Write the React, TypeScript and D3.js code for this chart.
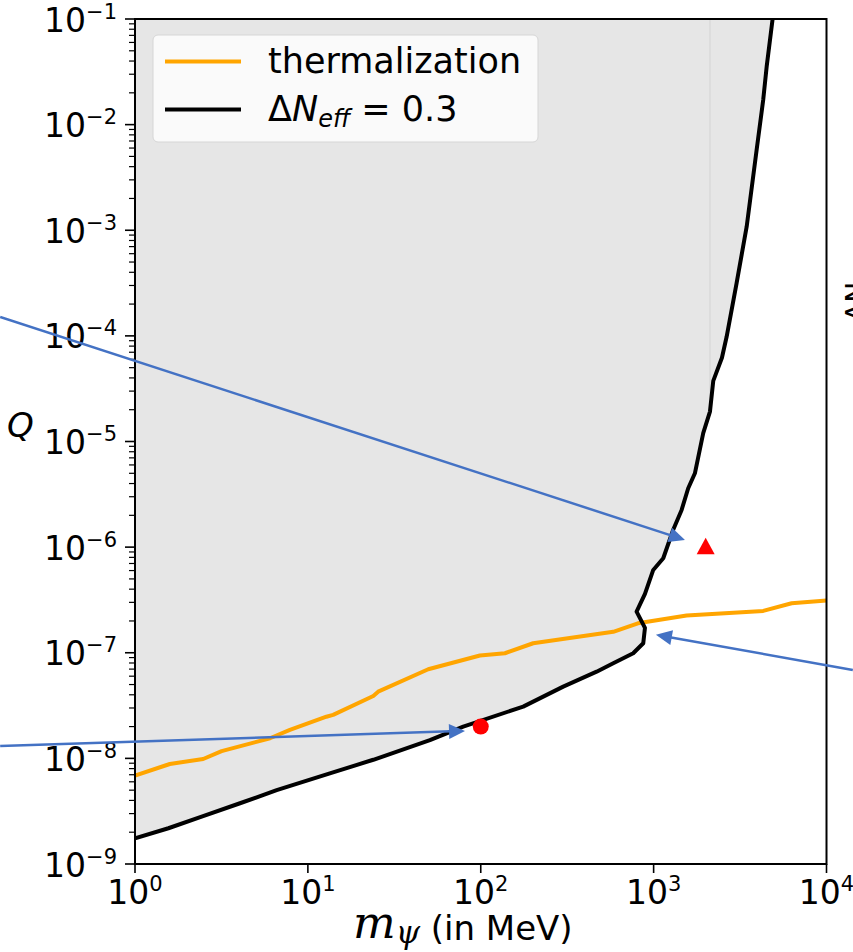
import { useEffect, useRef } from 'react';
import * as d3 from 'd3';

// Delta N_eff = 0.3 contour (mass in MeV, Q)
const neffMass = [1, 1.56, 2.43, 4.05, 6.6, 13.4, 23.9, 50.8, 79.2, 176, 300, 468, 584, 762, 871, 891, 797, 891, 995, 1137, 1298, 1452, 1585, 1733, 1936, 2118, 2213, 2484, 2644, 3020, 3453, 3944, 4305, 4508, 4878];
const neffQ = [1.75e-9, 2.18e-9, 2.81e-9, 3.76e-9, 5.0e-9, 7.2e-9, 9.7e-9, 1.49e-8, 2.0e-8, 3.09e-8, 4.78e-8, 6.62e-8, 7.96e-8, 9.9e-8, 1.23e-7, 1.72e-7, 2.45e-7, 3.61e-7, 6.08e-7, 7.85e-7, 1.46e-6, 2.25e-6, 3.61e-6, 5.0e-6, 1.2e-5, 1.92e-5, 3.75e-5, 6.2e-5, 9.8e-5, 3.16e-4, 1.08e-3, 5.77e-3, 1.72e-2, 3.55e-2, 0.1];

// thermalization line
const thermMass = [1, 1.59, 2.48, 3.17, 6.04, 7.87, 12.8, 14.0, 23.9, 25.5, 49.7, 98.9, 138, 201, 584, 811, 1552, 4305, 6285, 10000];
const thermQ = [6.86e-9, 8.85e-9, 9.87e-9, 1.17e-8, 1.55e-8, 1.86e-8, 2.48e-8, 2.58e-8, 3.9e-8, 4.28e-8, 6.98e-8, 9.42e-8, 9.89e-8, 1.23e-7, 1.58e-7, 1.9e-7, 2.25e-7, 2.49e-7, 2.94e-7, 3.13e-7];

// benchmark points
const circlePoint = [100, 2e-8];
const trianglePoint = [2000, 1e-6];

// annotation arrows: [mass, Q] start -> end
const arrowStart = [[0.166, 1.51e-4], [14200, 6.87e-8], [0.166, 1.31e-8]];
const arrowEnd = [[1518, 1.17e-6], [1031, 1.48e-7], [81.1, 1.82e-8]];

// faint edge of the shaded region
const edgeMass = 2118;
const edgeQ = [1.92e-5, 0.1];

const xTickExp = [0, 1, 2, 3, 4];
const yTickExp = [-9, -8, -7, -6, -5, -4, -3, -2, -1];

const App = () => {
  const svgRef = useRef<SVGSVGElement>(null);

  useEffect(() => {
    if (!svgRef.current) return;
    d3.select(svgRef.current).selectAll('*').remove();

    const width = 853;
    const height = 952;
    const left = 135, right = 826.5, top = 19, bottom = 864;
    const font = 'DejaVu Sans';

    const svg = d3.select(svgRef.current).attr('width', width).attr('height', height);

    const x = d3.scaleLog().domain([1, 1e4]).range([left, right]);
    const y = d3.scaleLog().domain([1e-9, 1e-1]).range([bottom, top]);

    svg.append('defs').append('clipPath').attr('id', 'plot-clip')
      .append('rect').attr('x', left).attr('y', top).attr('width', right - left).attr('height', bottom - top);

    const plot = svg.append('g').attr('clip-path', 'url(#plot-clip)');

    const neff = neffMass.map((m, i) => [m, neffQ[i]] as [number, number]);
    const therm = thermMass.map((m, i) => [m, thermQ[i]] as [number, number]);

    const line = d3.line<[number, number]>().x(d => x(d[0])).y(d => y(d[1]));

    // shaded excluded region
    plot.append('path')
      .attr('d', line([...neff, [1, 0.1]]) + 'Z')
      .attr('fill', '#e6e6e6');

    plot.append('line')
      .attr('x1', x(edgeMass)).attr('x2', x(edgeMass))
      .attr('y1', y(edgeQ[0])).attr('y2', y(edgeQ[1]))
      .attr('stroke', '#d3d3d3').attr('stroke-width', 1);

    plot.append('path')
      .attr('d', line(therm))
      .attr('fill', 'none').attr('stroke', '#ffa500').attr('stroke-width', 4)
      .attr('stroke-linejoin', 'round');

    plot.append('path')
      .attr('d', line(neff))
      .attr('fill', 'none').attr('stroke', '#000').attr('stroke-width', 4)
      .attr('stroke-linejoin', 'round');

    // frame
    svg.append('rect')
      .attr('x', left).attr('y', top).attr('width', right - left).attr('height', bottom - top)
      .attr('fill', 'none').attr('stroke', '#000').attr('stroke-width', 2);

    // y ticks
    const yMinor: number[] = [];
    yTickExp.slice(0, -1).forEach(e => { for (let k = 2; k <= 9; k++) yMinor.push(k * Math.pow(10, e)); });
    svg.append('g').selectAll('line').data(yMinor).enter().append('line')
      .attr('x1', left - 6).attr('x2', left).attr('y1', d => y(d)).attr('y2', d => y(d))
      .attr('stroke', '#000').attr('stroke-width', 1.2);
    svg.append('g').selectAll('line').data(yTickExp).enter().append('line')
      .attr('x1', left - 10).attr('x2', left).attr('y1', d => y(Math.pow(10, d))).attr('y2', d => y(Math.pow(10, d)))
      .attr('stroke', '#000').attr('stroke-width', 1.6);

    yTickExp.forEach(e => {
      const t = svg.append('text')
        .attr('x', 117).attr('y', y(Math.pow(10, e)) + 12.5)
        .attr('text-anchor', 'end').attr('font-family', font).attr('font-size', 33).attr('fill', '#000');
      t.append('tspan').text('10');
      t.append('tspan').attr('dy', -13).attr('font-size', 21).text('\u2212' + Math.abs(e));
    });

    // x ticks
    svg.append('g').selectAll('line').data(xTickExp).enter().append('line')
      .attr('x1', d => x(Math.pow(10, d))).attr('x2', d => x(Math.pow(10, d)))
      .attr('y1', bottom).attr('y2', bottom + 9)
      .attr('stroke', '#000').attr('stroke-width', 1.6);

    xTickExp.forEach(e => {
      const t = svg.append('text')
        .attr('x', x(Math.pow(10, e))).attr('y', 904)
        .attr('text-anchor', 'middle').attr('font-family', font).attr('font-size', 33).attr('fill', '#000');
      t.append('tspan').text('10');
      t.append('tspan').attr('dy', -13).attr('font-size', 21).text(String(e));
    });

    // axis labels
    svg.append('text').attr('x', 7).attr('y', 437)
      .attr('font-family', font).attr('font-style', 'italic').attr('font-size', 34).text('Q');

    const xl = svg.append('text').attr('x', 353).attr('y', 938)
      .attr('font-family', font).attr('font-size', 34);
    xl.append('tspan').attr('font-family', 'DejaVu Serif').attr('font-style', 'italic').attr('font-size', 45).text('m');
    xl.append('tspan').attr('font-family', 'DejaVu Serif').attr('font-style', 'italic').attr('font-size', 31).attr('dy', 5).text('\u03c8');
    xl.append('tspan').attr('dy', -3).text(' (in MeV)');

    // clipped colorbar label at right edge
    svg.append('text')
      .attr('transform', 'translate(866,322) rotate(-90)')
      .attr('font-family', font).attr('font-size', 28).text('\u0394N');

    // markers
    svg.append('circle')
      .attr('cx', x(circlePoint[0])).attr('cy', y(circlePoint[1])).attr('r', 8)
      .attr('fill', '#ff0000');
    const tx = x(trianglePoint[0]), ty = y(trianglePoint[1]);
    svg.append('path')
      .attr('d', `M${tx},${ty - 9.5}L${tx + 9},${ty + 7}L${tx - 9},${ty + 7}Z`)
      .attr('fill', '#ff0000');

    // arrows
    const blue = '#4472c4';
    arrowStart.forEach((s, i) => {
      const e = arrowEnd[i];
      const x0 = x(s[0]), y0 = y(s[1]), x1 = x(e[0]), y1 = y(e[1]);
      const len = Math.hypot(x1 - x0, y1 - y0);
      const ux = (x1 - x0) / len, uy = (y1 - y0) / len;
      const hl = 16, hw = 7.5;
      const bx = x1 - ux * hl, by = y1 - uy * hl;
      svg.append('line')
        .attr('x1', x0).attr('y1', y0).attr('x2', bx + ux * 2).attr('y2', by + uy * 2)
        .attr('stroke', blue).attr('stroke-width', 2.5);
      svg.append('path')
        .attr('d', `M${x1},${y1}L${bx - uy * hw},${by + ux * hw}L${bx + uy * hw},${by - ux * hw}Z`)
        .attr('fill', blue);
    });

    // legend
    const lg = svg.append('g');
    lg.append('rect')
      .attr('x', 153).attr('y', 35).attr('width', 385).attr('height', 107).attr('rx', 5)
      .attr('fill', '#ffffff').attr('fill-opacity', 0.8)
      .attr('stroke', '#d6d6d6').attr('stroke-width', 1);
    lg.append('line').attr('x1', 165).attr('x2', 241).attr('y1', 61.5).attr('y2', 61.5)
      .attr('stroke', '#ffa500').attr('stroke-width', 4);
    lg.append('line').attr('x1', 165).attr('x2', 241).attr('y1', 109.5).attr('y2', 109.5)
      .attr('stroke', '#000').attr('stroke-width', 4);
    lg.append('text').attr('x', 268).attr('y', 73)
      .attr('font-family', font).attr('font-size', 35).text('thermalization');
    const nl = lg.append('text').attr('x', 268).attr('y', 121)
      .attr('font-family', font).attr('font-size', 35);
    nl.append('tspan').text('\u0394');
    nl.append('tspan').attr('font-style', 'italic').text('N');
    nl.append('tspan').attr('font-style', 'italic').attr('font-size', 24).attr('dy', 6).text('eff');
    nl.append('tspan').attr('dy', -6).text(' = 0.3');
  }, []);

  return (
    <svg ref={svgRef} style={{ position: 'absolute', left: 0, top: 0, background: '#fff' }} />
  );
};

export default App;
